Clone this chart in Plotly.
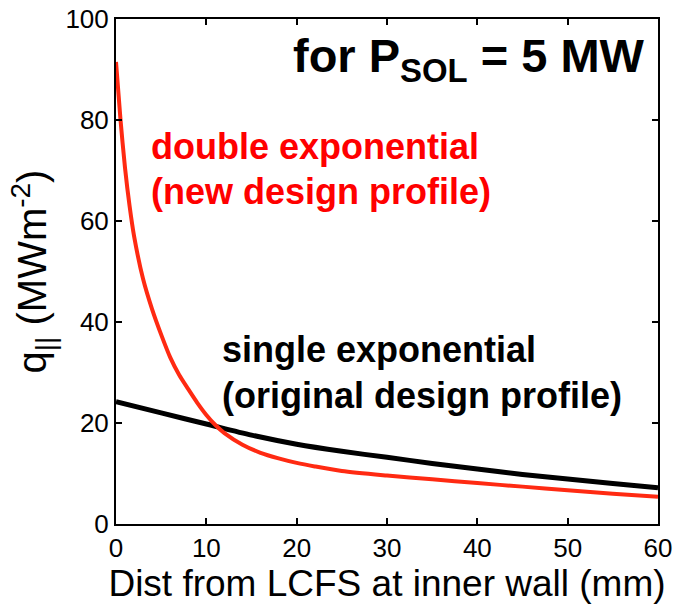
import plotly.graph_objects as go

# Data
dist_single = [0, 5, 10, 15, 20, 25, 30, 35, 40, 45, 50, 55, 60]
q_single = [24.2, 22.0, 19.8, 17.6, 15.8, 14.4, 13.2, 12.0, 10.9, 9.8, 8.9, 8.0, 7.2]

dist_double = [0, 0.5, 1, 1.5, 2, 3, 4, 5, 6, 7, 8, 9, 10, 11, 12, 14, 16, 18, 20, 22, 25, 30, 35, 40, 45, 50, 55, 60]
q_double = [91.5, 80.0, 70.5, 63.0, 57.0, 48.5, 42.5, 37.5, 33.0, 29.5, 26.7, 24.0, 21.6, 19.6, 18.0, 15.7, 14.1, 13.0, 12.1, 11.4, 10.5, 9.6, 8.85, 8.1, 7.4, 6.7, 6.0, 5.4]

x_ticks = [0, 10, 20, 30, 40, 50, 60]
y_ticks = [0, 20, 40, 60, 80, 100]

FONT = "Liberation Sans, Arial, sans-serif"

fig = go.Figure()
fig.add_trace(go.Scatter(x=dist_single, y=q_single, mode="lines",
                         line=dict(color="black", width=5, shape="spline", smoothing=0.8),
                         showlegend=False))
fig.add_trace(go.Scatter(x=dist_double, y=q_double, mode="lines",
                         line=dict(color="#ff2a12", width=4, shape="spline", smoothing=0.8),
                         showlegend=False))

axis_common = dict(showline=True, linecolor="black", linewidth=2, mirror="ticks",
                   ticks="inside", ticklen=6, tickwidth=2, tickcolor="black",
                   showgrid=False, zeroline=False, automargin=False,
                   tickfont=dict(family=FONT, size=26, color="black"))

fig.update_xaxes(range=[0, 60], tickvals=x_ticks, ticktext=[str(v) for v in x_ticks],
                 title=dict(text="Dist from LCFS at inner wall (mm)",
                            font=dict(family=FONT, size=37, color="black"), standoff=6),
                 **axis_common)
fig.update_yaxes(range=[0, 100], tickvals=y_ticks, ticktext=[str(v) for v in y_ticks],
                 title=dict(text="q<sub>||</sub> (MWm<sup>-2</sup>)",
                            font=dict(family=FONT, size=40, color="black"), standoff=6),
                 **axis_common)

annots = [
    dict(x=3.7, y=74.8, text="double exponential", color="red", size=36, xanchor="left"),
    dict(x=3.7, y=65.8, text="(new design profile)", color="red", size=36, xanchor="left"),
    dict(x=11.5, y=34.6, text="single exponential", color="black", size=36, xanchor="left"),
    dict(x=11.5, y=25.4, text="(original design profile)", color="black", size=36, xanchor="left"),
    dict(x=58.75, y=92.0, text="for P<sub>SOL</sub> = 5 MW", color="black", size=47, xanchor="right"),
]
for a in annots:
    fig.add_annotation(x=a["x"], y=a["y"], xref="x", yref="y", text="<b>" + a["text"] + "</b>",
                       showarrow=False, xanchor=a["xanchor"], yanchor="middle",
                       font=dict(family=FONT, size=a["size"], color=a["color"]))

fig.update_layout(width=675, height=612, margin=dict(l=116, r=17, t=19, b=88),
                  plot_bgcolor="white", paper_bgcolor="white",
                  font=dict(family=FONT, color="black"))

fig.write_html("out.html", config={"displayModeBar": False},
               post_script="document.body.style.margin='0';document.body.style.overflow='hidden';")
